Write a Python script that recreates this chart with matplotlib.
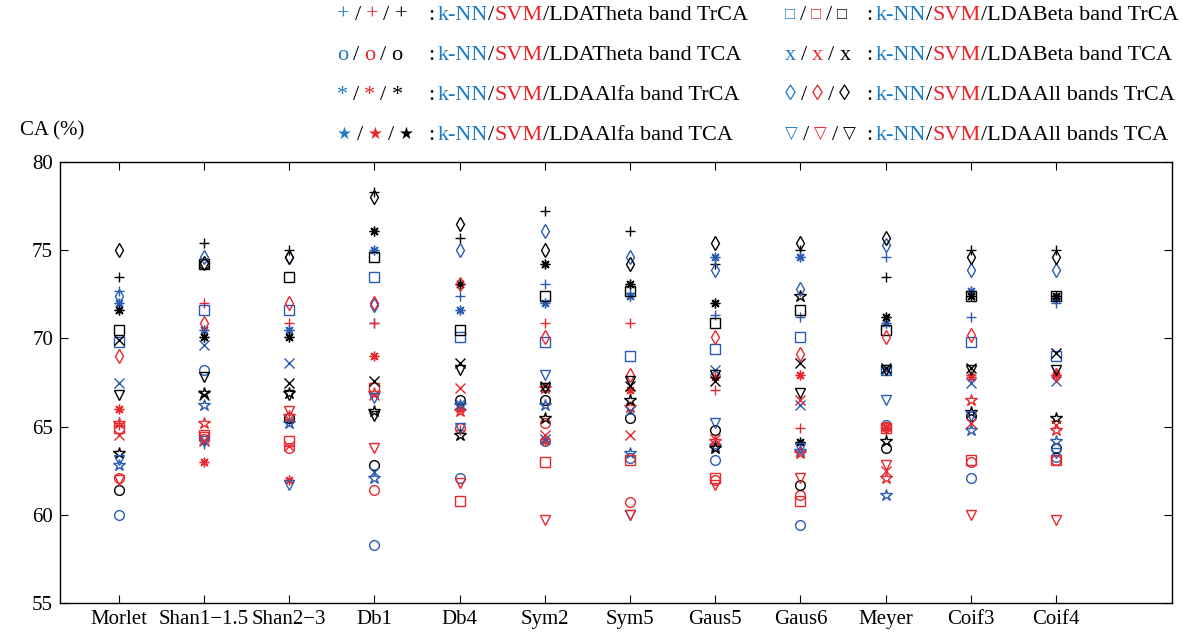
import numpy as np
import matplotlib
matplotlib.use('Agg')
import matplotlib.pyplot as plt

# ---------- data (CA %) ----------
wavelets = ['Morlet', 'Shan1\u22121.5', 'Shan2\u22123', 'Db1', 'Db4', 'Sym2',
            'Sym5', 'Gaus5', 'Gaus6', 'Meyer', 'Coif3', 'Coif4']

# Theta band TrCA (+)
knn_theta_trca = [72.7, 64.0, 65.3, 70.9, 72.4, 73.1, 72.6, 71.3, 71.2, 74.6, 71.2, 72.0]
svm_theta_trca = [65.1, 72.0, 70.9, 70.9, 64.8, 70.9, 70.9, 67.1, 64.9, 64.8, 67.9, 67.9]
lda_theta_trca = [73.5, 75.4, 75.0, 78.3, 75.7, 77.2, 76.1, 74.2, 75.0, 73.5, 75.0, 75.0]
# Theta band TCA (o)
knn_theta_tca = [60.0, 68.2, 65.5, 58.3, 62.1, 64.2, 63.2, 63.1, 59.4, 65.1, 62.1, 63.3]
svm_theta_tca = [62.1, 64.3, 63.8, 61.4, 64.9, 65.2, 60.7, 62.0, 61.1, 65.0, 63.0, 63.1]
lda_theta_tca = [61.4, 74.2, 65.5, 62.8, 66.5, 66.5, 65.5, 64.8, 61.7, 63.8, 65.6, 63.8]
# Alfa band TrCA (*)
knn_alfa_trca = [72.0, 70.5, 70.5, 75.0, 71.6, 72.0, 72.4, 74.6, 74.6, 70.9, 72.7, 72.3]
svm_alfa_trca = [66.0, 63.0, 62.0, 69.0, 66.0, 64.2, 67.1, 67.8, 67.9, 65.0, 67.8, 67.9]
lda_alfa_trca = [71.6, 70.1, 70.1, 76.1, 73.1, 74.2, 73.1, 72.0, 64.1, 71.2, 72.4, 72.4]
# Alfa band TCA (pentagram)
knn_alfa_tca = [62.8, 66.2, 65.2, 62.1, 66.2, 66.2, 63.5, 63.9, 63.6, 61.1, 64.8, 64.2]
svm_alfa_tca = [65.2, 65.2, 65.6, 66.9, 65.9, 67.2, 66.1, 64.2, 63.5, 62.1, 66.5, 64.8]
lda_alfa_tca = [63.5, 66.9, 66.9, 65.9, 64.5, 65.5, 66.5, 63.8, 72.4, 64.2, 65.8, 65.5]
# Beta band TrCA (square)
knn_beta_trca = [69.8, 71.6, 71.6, 73.5, 70.1, 69.8, 69.0, 69.4, 70.1, 68.2, 69.8, 69.0]
svm_beta_trca = [64.9, 64.5, 64.2, 67.2, 60.8, 63.0, 63.1, 62.1, 60.8, 64.9, 63.1, 63.1]
lda_beta_trca = [70.5, 74.2, 73.5, 74.6, 70.5, 72.4, 72.7, 70.9, 71.6, 70.5, 72.4, 72.4]
# Beta band TCA (x)
knn_beta_tca = [67.5, 69.6, 68.6, 62.4, 66.3, 64.3, 65.9, 68.2, 66.2, 68.2, 67.5, 67.6]
svm_beta_tca = [64.5, 64.2, 63.9, 66.8, 67.2, 64.5, 64.5, 64.3, 66.5, 62.5, 65.2, 65.1]
lda_beta_tca = [69.9, 66.8, 67.5, 67.6, 68.6, 67.3, 67.3, 67.6, 68.6, 68.3, 68.3, 69.2]
# All bands TrCA (diamond)
knn_all_trca = [72.4, 74.6, 74.6, 71.9, 75.0, 76.1, 74.6, 73.9, 72.8, 75.3, 73.9, 73.9]
svm_all_trca = [69.0, 70.9, 72.0, 72.0, 73.1, 70.1, 67.9, 70.1, 69.1, 70.1, 70.2, 67.9]
lda_all_trca = [75.0, 74.3, 74.6, 78.0, 76.5, 75.0, 74.2, 75.4, 75.4, 75.7, 74.6, 74.6]
# All bands TCA (triangle down)
knn_all_tca = [63.1, 64.2, 61.7, 66.6, 64.9, 67.9, 60.0, 65.2, 63.8, 66.5, 65.6, 63.5]
svm_all_tca = [62.0, 64.4, 65.9, 63.8, 61.8, 59.7, 60.0, 61.7, 62.1, 62.8, 60.0, 59.7]
lda_all_tca = [66.8, 67.8, 66.8, 65.6, 68.2, 67.2, 67.6, 67.9, 66.9, 68.2, 68.2, 68.2]

legend_names = ['Theta band TrCA', 'Theta band TCA', 'Alfa band TrCA', 'Alfa band TCA',
                'Beta band TrCA', 'Beta band TCA', 'All bands TrCA', 'All bands TCA']
legend_syms = ['+', 'o', '*', '\u2605', '\u25a1', 'x', '\u25ca', '\u25bd']

BLUE = '#2a5cb2'
RED = '#e8282c'
TXT_BLUE = '#1f7cc4'
W, H = 1183, 635

plt.rcParams['font.family'] = ['Liberation Serif', 'DejaVu Sans']

fig = plt.figure(figsize=(W / 100, H / 100), dpi=100)
ax = fig.add_axes([60 / W, 1 - 603 / H, (1172 - 60) / W, (603 - 162) / H])

x = np.arange(1, len(wavelets) + 1)
groups = [
    ('+', knn_theta_trca, svm_theta_trca, lda_theta_trca),
    ('o', knn_theta_tca, svm_theta_tca, lda_theta_tca),
    ((8, 2, 0), knn_alfa_trca, svm_alfa_trca, lda_alfa_trca),
    ('*', knn_alfa_tca, svm_alfa_tca, lda_alfa_tca),
    ('s', knn_beta_trca, svm_beta_trca, lda_beta_trca),
    ('x', knn_beta_tca, svm_beta_tca, lda_beta_tca),
    ('d', knn_all_trca, svm_all_trca, lda_all_trca),
    ('v', knn_all_tca, svm_all_tca, lda_all_tca),
]
for mk, knn, svm, lda in groups:
    for vals, c in zip((knn, svm, lda), (BLUE, RED, 'black')):
        ms = 9 if mk == '*' else 7
        ax.plot(x, vals, ls='none', marker=mk, ms=ms, mec=c, mfc='none', mew=1.0)

ax.set_xlim(0.31, 13.36)
ax.set_ylim(55, 80)
ax.set_yticks(np.arange(55, 81, 5))
ax.set_xticks(x)
ax.set_xticklabels(wavelets)
ax.tick_params(direction='in', length=6, top=True, right=True, labelsize=15, pad=5)
for sp in ax.spines.values():
    sp.set_linewidth(1.0)

fig.text(20 / W, 1 - 131 / H, 'CA (%)', fontsize=15, va='center', ha='left')

# ---------- legend built from coloured text pieces ----------
renderer = fig.canvas.get_renderer()


def put_pieces(xp, yp, pieces, size):
    for s, c in pieces:
        t = fig.text(xp / W, 1 - yp / H, s, color=c, fontsize=size, va='center', ha='left')
        xp += t.get_window_extent(renderer=renderer).width
    return xp


rows_y = [15, 55, 95, 135]
for i, (sym, name) in enumerate(zip(legend_syms, legend_names)):
    col, row = divmod(i, 4)
    x0, xc = (337, 428) if col == 0 else (785, 866)
    y = rows_y[row]
    sz = 12 if sym in ('\u2605', '\u25a1', '\u25bd') else 16
    xp = x0
    for j, c in enumerate((TXT_BLUE, RED, 'black')):
        t = fig.text(xp / W, 1 - y / H, sym, color=c, fontsize=sz, va='center', ha='left')
        xp += t.get_window_extent(renderer=renderer).width
        if j < 2:
            xp += 5
            t = fig.text(xp / W, 1 - y / H, '/', color='black', fontsize=16, va='center', ha='left')
            xp += t.get_window_extent(renderer=renderer).width + 5
    put_pieces(xc, y, [(':', 'black')], 16)
    put_pieces(xc + 10, y, [('k-NN', TXT_BLUE), ('/', 'black'), ('SVM', RED),
                            ('/LDA' + name, 'black')], 16)

fig.savefig('out.png', dpi=100)
